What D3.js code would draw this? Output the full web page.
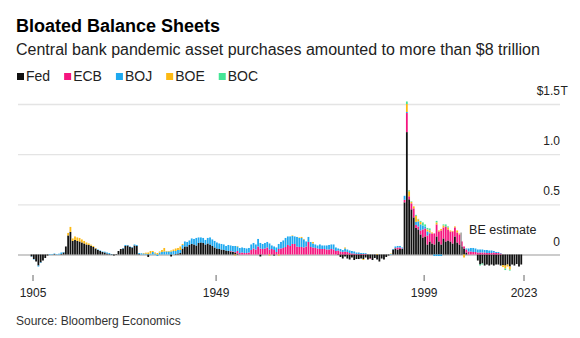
<!DOCTYPE html>
<html>
<head>
<meta charset="utf-8">
<script src="https://cdn.jsdelivr.net/npm/d3@7"></script>
<style>
  html, body { margin: 0; padding: 0; background: #fff; }
  svg { display: block; font-family: "Liberation Sans", Arial, Helvetica, sans-serif; }
</style>
</head>
<body>
<svg id="chart" width="580" height="338"></svg>
<script>
// ---- Data (billions of US$) ----
const periodStart = 1904;
const periodStep = 0.55;

const Fed = [
  0,-20,-45,-70,-110,-80,-60,-35,-10,0,
  0,5,0,0,5,20,80,190,225,135,
  145,135,130,120,110,100,95,85,75,60,
  45,35,25,20,10,5,-5,-10,-5,35,
  55,60,85,90,75,70,90,85,5,0,
  0,0,-25,0,0,0,0,0,0,0,
  0,0,-20,0,5,10,15,60,80,80,
  95,105,100,90,115,120,115,100,110,100,
  85,70,60,55,50,45,40,35,30,25,
  20,10,0,0,0,0,0,0,0,0,
  0,-20,0,0,0,0,0,-10,0,0,
  0,0,0,0,0,0,0,0,0,0,
  0,0,0,0,0,0,0,0,0,0,
  0,0,0,0,0,-5,-25,-40,-20,-40,
  -50,-30,-55,-45,-45,-40,-45,-30,-50,-40,
  -55,-35,-50,-70,-40,-50,-25,-10,0,50,
  60,50,55,55,520,1220,550,450,370,265,
  250,200,170,180,100,130,110,100,180,130,
  100,160,130,140,130,110,180,120,100,80,
  60,20,0,0,0,0,-60,-100,-90,-110,
  -100,-110,-100,-110,-100,-100,-110,-105,-110,-100,
  -120,-100,-110,-95,-120,-100
];

const ECB = [
  0,0,0,0,0,0,0,0,0,0,
  0,0,0,0,0,0,0,0,0,0,
  0,0,0,0,0,0,0,0,0,0,
  0,0,0,0,0,0,0,0,0,0,
  0,0,0,0,0,0,0,0,0,0,
  0,0,0,0,0,0,0,0,0,0,
  0,0,0,0,0,0,0,0,0,0,
  0,0,0,0,0,0,0,0,0,0,
  0,0,0,0,0,0,0,0,5,5,
  5,25,15,20,15,15,20,45,60,50,
  80,60,55,60,70,50,55,45,25,55,
  60,65,75,95,85,105,105,80,75,75,
  70,80,125,75,70,65,60,55,55,55,
  50,50,55,50,35,40,30,25,30,25,
  15,10,10,5,5,5,5,5,0,-5,
  0,0,0,0,0,0,0,0,0,0,
  5,20,15,5,25,190,30,60,90,30,
  30,40,80,80,90,80,100,110,120,100,
  140,110,150,110,100,120,90,100,100,50,
  20,30,30,30,25,25,20,20,20,20,
  15,15,15,20,15,15,10,0,0,0,
  0,0,0,0,0,0
];

const BOJ = [
  0,-3,-5,0,-10,-5,0,0,0,5,
  5,5,5,8,15,5,0,0,0,0,
  0,0,0,0,0,0,0,3,0,0,
  5,5,5,8,10,10,3,0,0,0,
  0,5,10,5,5,5,10,10,10,12,
  10,8,5,10,25,10,-15,20,25,30,
  30,30,30,35,30,35,30,35,50,45,
  45,55,55,75,55,50,50,45,55,70,
  65,65,60,55,55,55,45,60,55,55,
  60,45,50,50,50,45,45,55,55,50,
  75,55,50,55,55,60,35,35,45,50,
  65,75,90,85,95,80,75,95,90,90,
  80,50,50,50,40,35,30,45,35,35,
  40,45,45,50,35,20,25,20,30,25,
  25,25,20,15,15,10,10,8,0,0,
  0,0,0,0,0,0,0,0,5,5,
  15,15,15,10,40,10,0,0,0,30,
  50,60,40,20,40,10,0,-15,-15,-15,
  -15,0,0,0,0,0,0,0,0,0,
  0,10,30,35,40,35,30,30,30,25,
  30,25,25,15,10,10,5,0,0,0,
  0,0,0,0,0,0
];

const BOE = [
  0,0,0,0,0,0,0,0,0,0,
  0,0,0,0,0,0,0,25,50,25,
  35,35,35,30,25,20,15,10,10,5,
  0,0,0,0,0,0,0,0,0,0,
  0,0,0,0,0,0,0,0,0,0,
  5,10,15,25,10,10,15,10,20,35,
  5,5,10,15,25,20,35,10,0,0,
  0,0,0,0,0,0,0,0,0,0,
  0,0,0,0,0,0,0,0,0,0,
  -10,5,0,0,0,0,0,0,0,0,
  0,0,0,0,0,-10,0,0,0,-10,
  0,0,0,0,0,5,0,0,5,10,
  5,0,0,0,15,0,0,0,0,0,
  0,0,0,0,0,0,0,0,10,0,
  0,0,0,0,0,0,-10,0,0,0,
  0,0,5,0,0,0,0,0,5,0,
  0,0,0,0,0,80,50,15,20,60,
  20,25,0,0,20,20,10,0,20,10,
  15,20,0,20,10,5,10,20,10,0,
  -30,0,0,0,0,0,0,0,0,0,
  0,0,0,0,0,0,0,-20,-30,-20,
  -30,0,0,0,0,0
];

const BOC = [
  0,0,0,0,0,0,0,0,0,0,
  0,0,0,0,0,0,0,0,0,0,
  0,0,0,0,0,0,0,0,0,0,
  0,0,0,0,0,0,0,0,0,0,
  0,0,0,0,0,0,0,0,0,0,
  0,0,0,0,0,0,0,0,0,0,
  0,0,0,0,0,0,0,0,0,0,
  0,0,0,0,0,0,0,0,0,0,
  0,0,0,0,0,0,0,0,0,0,
  0,0,0,0,0,0,0,0,0,0,
  0,0,0,0,0,0,0,0,0,0,
  0,0,0,0,0,0,0,0,0,0,
  0,0,0,0,0,0,0,0,0,0,
  0,0,0,0,0,0,0,0,0,0,
  0,0,0,0,0,0,0,0,0,0,
  0,0,0,0,0,0,0,0,0,0,
  0,0,0,0,0,25,10,5,0,10,
  5,10,30,20,15,20,0,0,15,0,
  0,10,20,10,0,0,0,0,0,0,
  0,0,0,0,0,0,0,-10,-10,0,
  0,0,0,0,0,0,0,0,-15,0,
  -10,0,0,0,0,0
];

const seriesNames = ["Fed", "ECB", "BOJ", "BOE", "BOC"];
const seriesColors = ["#111111", "#f5157f", "#1ea9f0", "#fcb913", "#45e596"];
const xTickValues = [1905, 1949, 1999, 2023];
const yTickValues = [0, 0.5, 1, 1.5];
const estimateStart = 2008;   // where the Bloomberg Economics estimate begins
const estimateMarkerValue = 0.22; // trillions

const titleText = "Bloated Balance Sheets";
const subtitleText = "Central bank pandemic asset purchases amounted to more than $8 trillion";
const sourceText = "Source: Bloomberg Economics";

// ---- Build table ----
const seriesData = { Fed, ECB, BOJ, BOE, BOC };
const rows = Fed.map((_, i) => {
  const r = { t: periodStart + i * periodStep };
  seriesNames.forEach(k => { r[k] = seriesData[k][i] / 1000; });
  return r;
});

const svg = d3.select("#chart");

// ---- Scales ----
const x = d3.scaleLinear().domain([1905, 2023]).range([32.5, 523.5]);
const y = d3.scaleLinear().domain([0, 1.5]).range([254.5, 104]);
const color = d3.scaleOrdinal().domain(seriesNames).range(seriesColors);
const gridLeft = 18, gridRight = 560;

// ---- Header ----
svg.append("text").attr("x", 16).attr("y", 32)
  .attr("font-size", 18).attr("font-weight", 700).attr("fill", "#000")
  .text(titleText);
svg.append("text").attr("x", 16).attr("y", 55)
  .attr("font-size", 16).attr("fill", "#222")
  .text(subtitleText);

// ---- Legend ----
const legend = svg.append("g");
let lx = 17;
seriesNames.forEach(name => {
  const g = legend.append("g").attr("transform", `translate(${lx},0)`);
  g.append("rect").attr("x", 0).attr("y", 73).attr("width", 7).attr("height", 7)
    .attr("fill", color(name));
  const t = g.append("text").attr("x", 9).attr("y", 80.5)
    .attr("font-size", 14).attr("fill", "#222").text(name);
  lx += 9 + t.node().getComputedTextLength() + 14;
});

// ---- Gridlines ----
const grid = svg.append("g").attr("transform", `translate(${gridRight},0)`)
  .call(d3.axisLeft(y).tickValues(yTickValues).tickSize(gridRight - gridLeft).tickFormat(""));
grid.select(".domain").remove();
grid.selectAll(".tick line")
  .attr("stroke", d => d === 0 ? "#9a9a9a" : "#e4e4e4")
  .attr("stroke-width", d => d === 0 ? 1.2 : 1.4);

// ---- Bars ----
const stacked = d3.stack().keys(seriesNames).offset(d3.stackOffsetDiverging)(rows);
const barW = (x(periodStart + periodStep) - x(periodStart)) * 0.78;
svg.append("g").selectAll("g").data(stacked).join("g")
  .attr("fill", d => color(d.key))
  .selectAll("rect").data(d => d.filter(s => s[1] !== s[0])).join("rect")
  .attr("x", d => x(d.data.t))
  .attr("width", barW)
  .attr("y", d => y(Math.max(d[0], d[1])))
  .attr("height", d => Math.abs(y(d[0]) - y(d[1])));

// ---- Y labels ----
const yLab = svg.append("g").attr("transform", `translate(${gridRight},0)`)
  .call(d3.axisLeft(y).tickValues(yTickValues).tickSize(0).tickPadding(0)
    .tickFormat(d => d === 1.5 ? "$1.5" : d === 0 ? "0" : d3.format(".1f")(d)));
yLab.select(".domain").remove();
yLab.selectAll(".tick text")
  .attr("font-size", 12).attr("font-family", "Liberation Sans, Arial, sans-serif")
  .attr("fill", "#222").attr("dy", 0).attr("y", -9.5);
yLab.selectAll(".tick").filter(d => d === 1.5).append("text")
  .attr("x", 0.5).attr("y", -9.5).attr("text-anchor", "start")
  .attr("font-size", 12).attr("font-family", "Liberation Sans, Arial, sans-serif")
  .attr("fill", "#222").text("T");

// ---- X axis ----
const xAx = svg.append("g").attr("transform", "translate(0,275)")
  .call(d3.axisBottom(x).tickValues(xTickValues).tickFormat(d3.format("d")).tickSize(6).tickPadding(7));
xAx.select(".domain").remove();
xAx.selectAll(".tick line").attr("stroke", "#666");
xAx.selectAll(".tick text").attr("font-size", 12)
  .attr("font-family", "Liberation Sans, Arial, sans-serif").attr("fill", "#222");

// ---- Estimate annotation ----
svg.append("line")
  .attr("x1", x(estimateStart)).attr("x2", x(estimateStart))
  .attr("y1", y(0)).attr("y2", y(estimateMarkerValue))
  .attr("stroke", "#8c8c8c").attr("stroke-width", 1.2);
svg.append("text").attr("x", x(estimateStart) + 8).attr("y", y(0.2))
  .attr("font-size", 12.5).attr("fill", "#222").text("BE estimate");

// ---- Source ----
svg.append("text").attr("x", 16).attr("y", 325)
  .attr("font-size", 12).attr("fill", "#333").text(sourceText);
</script>
</body>
</html>
